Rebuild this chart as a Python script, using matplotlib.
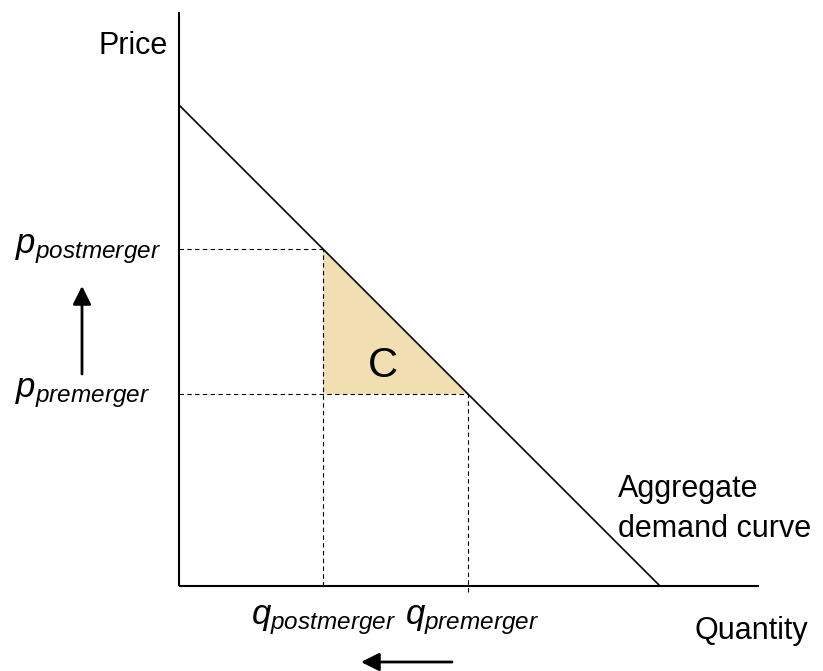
import matplotlib
matplotlib.use('Agg')
from matplotlib import pyplot as plt
from matplotlib.patches import Polygon

plt.rcParams['font.family'] = ['Liberation Sans', 'DejaVu Sans']
plt.rcParams['mathtext.fontset'] = 'custom'
plt.rcParams['mathtext.it'] = 'Liberation Sans:italic'
plt.rcParams['mathtext.rm'] = 'Liberation Sans'

# demand curve P = 10 - Q
demand_q = [0, 10]
demand_p = [10, 0]
p_post, p_pre = 7, 4
q_post, q_pre = 3, 6
q_axis_max, p_axis_max = 12.06, 11.93

unit = 48.1  # pixels per unit
fig = plt.figure(figsize=(8.23, 6.71), dpi=100)
ax = fig.add_axes([0, 0, 1, 1])
ax.set_xlim(-179 / unit, (823 - 179) / unit)
ax.set_ylim(-(671 - 586) / unit, 586 / unit)
ax.axis('off')

# axes
ax.plot([0, 0], [0, p_axis_max], color='black', lw=1.5, solid_capstyle='butt')
ax.plot([0, q_axis_max], [0, 0], color='black', lw=1.5, solid_capstyle='butt')

# shaded area C
tri = Polygon([(q_post, p_post), (q_post, p_pre), (q_pre, p_pre)],
              closed=True, facecolor='#F1DFB2', edgecolor='none', zorder=1)
ax.add_patch(tri)

# demand
ax.plot(demand_q, demand_p, color='black', lw=1.2, zorder=3)

# dashed guides
dash = dict(color='black', lw=0.8, ls=(0, (4, 3)), zorder=2)
ax.plot([0, q_post], [p_post, p_post], **dash)
ax.plot([0, q_pre], [p_pre, p_pre], **dash)
ax.plot([q_post, q_post], [0, p_post], **dash)
ax.plot([q_pre, q_pre], [-6 / unit, p_pre], **dash)

# labels
ax.text(-11 / unit, (586 - 46) / unit, 'Price', fontsize=22, ha='right', va='center')
ax.text(808 / unit - 179 / unit, -(631 - 586) / unit, 'Quantity', fontsize=22, ha='right', va='center')
ax.text((618 - 179) / unit, (586 - 509) / unit, 'Aggregate\ndemand curve', fontsize=22,
        ha='left', va='center', linespacing=1.45)
ax.text((383 - 179) / unit, (586 - 366) / unit, 'C', fontsize=30, ha='center', va='center')

ax.text(-164 / unit, p_post, r'$p_{postmerger}$', fontsize=25, ha='left', va='center')
ax.text(-164 / unit, p_pre, r'$p_{premerger}$', fontsize=25, ha='left', va='center')
ax.text(q_post, -(620 - 586) / unit, r'$q_{postmerger}$', fontsize=25, ha='center', va='center')
ax.text(q_pre + 5 / unit, -(620 - 586) / unit, r'$q_{premerger}$', fontsize=25, ha='center', va='center')

# arrows
arrow = dict(arrowstyle='-|>,head_length=0.5,head_width=0.25', color='black',
             lw=2, mutation_scale=22, shrinkA=0, shrinkB=0)
ax.annotate('', xy=(-97 / unit, (586 - 286) / unit), xytext=(-97 / unit, (586 - 374) / unit),
            arrowprops=arrow)
ax.annotate('', xy=((361 - 179) / unit, -(662 - 586) / unit), xytext=((452 - 179) / unit, -(662 - 586) / unit),
            arrowprops=arrow)

fig.savefig('out.png', dpi=100)
